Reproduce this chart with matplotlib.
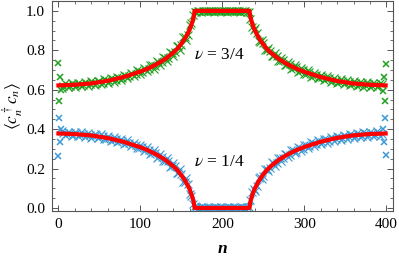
import matplotlib
matplotlib.use("Agg")
import matplotlib.pyplot as plt
from matplotlib.ticker import MultipleLocator, FormatStrFormatter

plt.rcParams['font.family'] = ['Liberation Serif', 'DejaVu Serif']
plt.rcParams['mathtext.fontset'] = 'stix'

# red guide line (lower filling nu = 1/4)
line_n = [0, 20, 40, 60, 80, 100, 110, 120, 130, 140, 145, 150, 155, 160,
          163, 165, 166, 233, 234, 236, 239, 244, 249, 254, 259, 269, 279,
          289, 299, 319, 339, 359, 379, 399]
line_low = [0.378, 0.375, 0.368, 0.355, 0.335, 0.308, 0.291, 0.270, 0.245,
            0.212, 0.192, 0.166, 0.135, 0.095, 0.060, 0.030, 0.000, 0.000,
            0.030, 0.060, 0.095, 0.135, 0.166, 0.192, 0.212, 0.245, 0.270,
            0.291, 0.308, 0.335, 0.355, 0.368, 0.375, 0.378]
line_high = [0.622, 0.625, 0.632, 0.645, 0.665, 0.692, 0.709, 0.730, 0.755,
             0.788, 0.808, 0.834, 0.865, 0.905, 0.940, 0.970, 1.000, 1.000,
             0.970, 0.940, 0.905, 0.865, 0.834, 0.808, 0.788, 0.755, 0.730,
             0.709, 0.692, 0.665, 0.645, 0.632, 0.625, 0.622]

# numerical points, sites 4, 8, ..., 392
pts_n_a = list(range(4, 396, 4))
pts_low_a = [0.392, 0.368, 0.385, 0.366, 0.386, 0.365, 0.383, 0.362, 0.381, 0.357,
             0.377, 0.354, 0.373, 0.348, 0.367, 0.341, 0.360, 0.334, 0.352, 0.324,
             0.343, 0.313, 0.332, 0.302, 0.321, 0.289, 0.307, 0.274, 0.293, 0.256,
             0.276, 0.236, 0.255, 0.210, 0.230, 0.178, 0.197, 0.132, 0.150, 0.070,
             0.020, 0.004, 0.000, 0.003, 0.000, 0.002, 0.000, 0.003, 0.000, 0.002,
             0.000, 0.003, 0.000, 0.002, 0.000, 0.003, 0.001, 0.005, 0.080, 0.088,
             0.152, 0.146, 0.197, 0.186, 0.231, 0.214, 0.256, 0.240, 0.276, 0.259,
             0.294, 0.277, 0.308, 0.291, 0.322, 0.302, 0.333, 0.313, 0.343, 0.323,
             0.352, 0.332, 0.360, 0.339, 0.367, 0.346, 0.372, 0.351, 0.377, 0.355,
             0.381, 0.359, 0.384, 0.362, 0.386, 0.364, 0.388, 0.366]
pts_high_a = [0.608, 0.632, 0.615, 0.634, 0.614, 0.635, 0.617, 0.638, 0.619, 0.643,
              0.623, 0.646, 0.627, 0.652, 0.633, 0.659, 0.640, 0.666, 0.648, 0.676,
              0.657, 0.687, 0.668, 0.698, 0.679, 0.711, 0.693, 0.726, 0.707, 0.744,
              0.724, 0.764, 0.745, 0.790, 0.770, 0.822, 0.803, 0.868, 0.850, 0.930,
              0.980, 0.996, 1.000, 0.997, 1.000, 0.998, 1.000, 0.997, 1.000, 0.998,
              1.000, 0.997, 1.000, 0.998, 1.000, 0.997, 0.999, 0.995, 0.920, 0.912,
              0.848, 0.854, 0.803, 0.814, 0.769, 0.786, 0.744, 0.760, 0.724, 0.741,
              0.706, 0.723, 0.692, 0.709, 0.678, 0.698, 0.667, 0.687, 0.657, 0.677,
              0.648, 0.668, 0.640, 0.661, 0.633, 0.654, 0.628, 0.649, 0.623, 0.645,
              0.619, 0.641, 0.616, 0.638, 0.614, 0.636, 0.612, 0.634]

# numerical points, sites 6, 10, ..., 394
pts_n_b = list(range(6, 398, 4))
pts_low_b = [0.381, 0.374, 0.379, 0.372, 0.378, 0.370, 0.375, 0.368, 0.372, 0.364,
             0.368, 0.358, 0.364, 0.352, 0.357, 0.345, 0.350, 0.338, 0.341, 0.328,
             0.331, 0.318, 0.321, 0.306, 0.310, 0.293, 0.296, 0.277, 0.280, 0.259,
             0.261, 0.238, 0.238, 0.212, 0.211, 0.178, 0.174, 0.130, 0.120, 0.060,
             0.008, 0.001, 0.004, 0.000, 0.003, 0.001, 0.004, 0.000, 0.003, 0.001,
             0.004, 0.000, 0.003, 0.001, 0.004, 0.000, 0.006, 0.040, 0.095, 0.112,
             0.158, 0.164, 0.199, 0.201, 0.229, 0.229, 0.254, 0.251, 0.275, 0.270,
             0.292, 0.286, 0.306, 0.300, 0.318, 0.312, 0.329, 0.324, 0.339, 0.333,
             0.348, 0.342, 0.355, 0.349, 0.361, 0.355, 0.367, 0.360, 0.371, 0.364,
             0.375, 0.367, 0.378, 0.370, 0.380, 0.372, 0.381, 0.373]
pts_high_b = [0.619, 0.626, 0.621, 0.628, 0.622, 0.630, 0.625, 0.632, 0.628, 0.636,
              0.632, 0.642, 0.636, 0.648, 0.643, 0.655, 0.650, 0.662, 0.659, 0.672,
              0.669, 0.682, 0.679, 0.694, 0.690, 0.707, 0.704, 0.723, 0.720, 0.741,
              0.739, 0.762, 0.762, 0.788, 0.789, 0.822, 0.826, 0.870, 0.880, 0.940,
              0.992, 0.999, 0.996, 1.000, 0.997, 0.999, 0.996, 1.000, 0.997, 0.999,
              0.996, 1.000, 0.997, 0.999, 0.996, 1.000, 0.994, 0.960, 0.905, 0.888,
              0.842, 0.836, 0.801, 0.799, 0.771, 0.771, 0.746, 0.749, 0.725, 0.730,
              0.708, 0.714, 0.694, 0.700, 0.682, 0.688, 0.671, 0.676, 0.661, 0.667,
              0.652, 0.658, 0.645, 0.651, 0.639, 0.645, 0.633, 0.640, 0.629, 0.636,
              0.625, 0.633, 0.622, 0.630, 0.620, 0.628, 0.619, 0.627]

# boundary sites that stick out
edge_n = [0, 1, 2, 3, 396, 397, 398, 399]
edge_low = [0.265, 0.455, 0.335, 0.400, 0.400, 0.335, 0.455, 0.270]
edge_high = [0.735, 0.545, 0.665, 0.600, 0.595, 0.665, 0.545, 0.730]

blue = '#3d9ad6'
green = '#1fa01f'

fig = plt.figure(figsize=(3.99, 2.62), dpi=100)
ax = fig.add_axes([0.130, 0.195, 0.855, 0.801])

for xs, ys in [(pts_n_a, pts_high_a), (pts_n_b, pts_high_b)]:
    ax.plot(xs, ys, 'x', color=green, ms=5.2, mew=0.8)
for xs, ys in [(pts_n_a, pts_low_a), (pts_n_b, pts_low_b)]:
    ax.plot(xs, ys, 'x', color=blue, ms=5.2, mew=0.8)
ax.plot(edge_n, edge_high, 'x', color=green, ms=5, mew=1.1)
ax.plot(edge_n, edge_low, 'x', color=blue, ms=5, mew=1.1)
ax.plot(line_n, line_high, color='red', lw=3)
ax.plot(line_n, line_low, color='red', lw=3)

ax.text(196, 0.775, r'$\nu$ = 3/4', fontsize=12.5, ha='center', va='center')
ax.text(196, 0.233, r'$\nu$ = 1/4', fontsize=12.5, ha='center', va='center')

ax.set_xlim(-8, 408)
ax.set_ylim(-0.015, 1.05)
ax.xaxis.set_major_locator(MultipleLocator(100))
ax.xaxis.set_minor_locator(MultipleLocator(20))
ax.yaxis.set_major_locator(MultipleLocator(0.2))
ax.yaxis.set_minor_locator(MultipleLocator(0.05))
ax.yaxis.set_major_formatter(FormatStrFormatter('%.1f'))
ax.tick_params(which='both', direction='in', top=True, right=True,
               labelsize=11, color='#555555')
ax.tick_params(which='major', length=4, width=0.7, pad=5)
ax.tick_params(which='minor', length=2.2, width=0.6)
for s in ax.spines.values():
    s.set_color('#555555')
    s.set_linewidth(0.8)

ax.set_xlabel('n', fontsize=12.5, style='italic', fontweight='bold', labelpad=7)
ax.set_ylabel(r'$\langle c_n^\dagger c_n\rangle$', fontsize=12.5, labelpad=1)

fig.savefig('out.png', dpi=100)
